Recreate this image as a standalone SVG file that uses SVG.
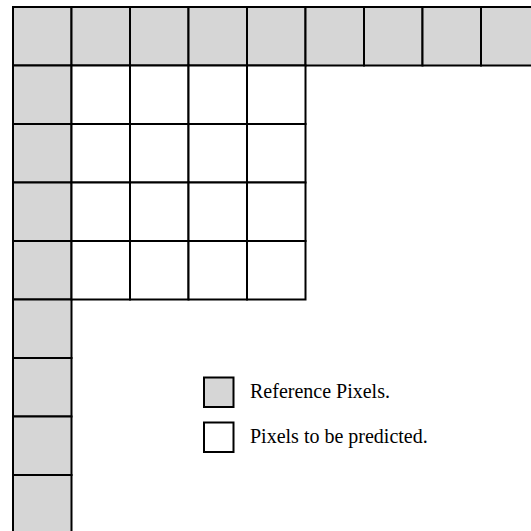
<svg xmlns="http://www.w3.org/2000/svg" width="531" height="531" viewBox="0 0 531 531">
<style>
.ref{fill:#d6d6d6;stroke:#000;stroke-width:2}
.pred{fill:#fff;stroke:#000;stroke-width:2}
.lbl{font-family:"Liberation Serif","Times New Roman",serif;font-size:20px;fill:#000}
</style>
<rect width="531" height="531" fill="#fff"/>
<g id="reference-pixels">
<rect class="ref" x="13" y="7" width="58.5" height="58.5"/>
<rect class="ref" x="71.5" y="7" width="58.5" height="58.5"/>
<rect class="ref" x="130" y="7" width="58.5" height="58.5"/>
<rect class="ref" x="188.5" y="7" width="58.5" height="58.5"/>
<rect class="ref" x="247" y="7" width="58.5" height="58.5"/>
<rect class="ref" x="305.5" y="7" width="58.5" height="58.5"/>
<rect class="ref" x="364" y="7" width="58.5" height="58.5"/>
<rect class="ref" x="422.5" y="7" width="58.5" height="58.5"/>
<rect class="ref" x="481" y="7" width="58.5" height="58.5"/>
<rect class="ref" x="13" y="65.5" width="58.5" height="58.5"/>
<rect class="ref" x="13" y="124" width="58.5" height="58.5"/>
<rect class="ref" x="13" y="182.5" width="58.5" height="58.5"/>
<rect class="ref" x="13" y="241" width="58.5" height="58.5"/>
<rect class="ref" x="13" y="299.5" width="58.5" height="58.5"/>
<rect class="ref" x="13" y="358" width="58.5" height="58.5"/>
<rect class="ref" x="13" y="416.5" width="58.5" height="58.5"/>
<rect class="ref" x="13" y="475" width="58.5" height="58.5"/>
</g>
<g id="predicted-pixels">
<rect class="pred" x="71.5" y="65.5" width="58.5" height="58.5"/>
<rect class="pred" x="130" y="65.5" width="58.5" height="58.5"/>
<rect class="pred" x="188.5" y="65.5" width="58.5" height="58.5"/>
<rect class="pred" x="247" y="65.5" width="58.5" height="58.5"/>
<rect class="pred" x="71.5" y="124" width="58.5" height="58.5"/>
<rect class="pred" x="130" y="124" width="58.5" height="58.5"/>
<rect class="pred" x="188.5" y="124" width="58.5" height="58.5"/>
<rect class="pred" x="247" y="124" width="58.5" height="58.5"/>
<rect class="pred" x="71.5" y="182.5" width="58.5" height="58.5"/>
<rect class="pred" x="130" y="182.5" width="58.5" height="58.5"/>
<rect class="pred" x="188.5" y="182.5" width="58.5" height="58.5"/>
<rect class="pred" x="247" y="182.5" width="58.5" height="58.5"/>
<rect class="pred" x="71.5" y="241" width="58.5" height="58.5"/>
<rect class="pred" x="130" y="241" width="58.5" height="58.5"/>
<rect class="pred" x="188.5" y="241" width="58.5" height="58.5"/>
<rect class="pred" x="247" y="241" width="58.5" height="58.5"/>
</g>
<g id="legend">
<rect class="ref" x="204" y="377.5" width="29.5" height="29.5"/>
<text class="lbl" x="250" y="398">Reference Pixels.</text>
<rect class="pred" x="204" y="422.5" width="29.5" height="29.5"/>
<text class="lbl" x="250" y="443">Pixels to be predicted.</text>
</g>
<g id="connectors"/>
</svg>
